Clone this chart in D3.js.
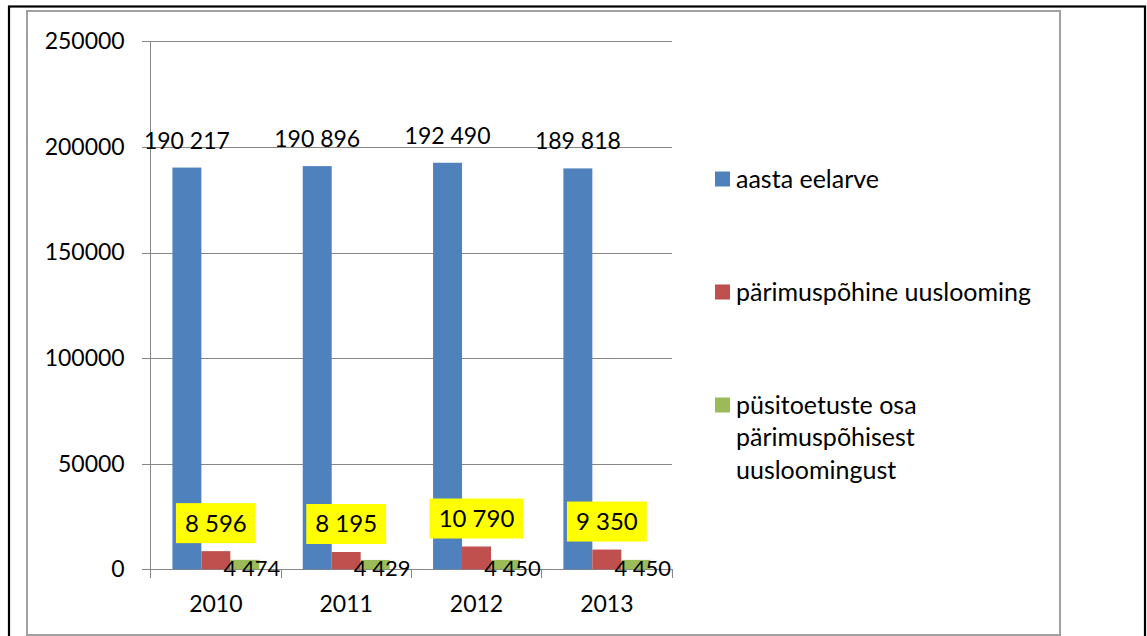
<!DOCTYPE html>
<html>
<head>
<meta charset="utf-8">
<script src="https://cdn.jsdelivr.net/npm/d3@7"></script>
<style>
  body { margin: 0; background: #fff; }
  text { font-family: Lato, "Noto Sans", sans-serif; fill: #000; }
</style>
</head>
<body>
<div id="chart"></div>
<script>
// DATA
var years = ["2010", "2011", "2012", "2013"];
var seriesNames = ["aasta eelarve", "pärimuspõhine uuslooming", "püsitoetuste osa pärimuspõhisest uusloomingust"];
var budget = [190217, 190896, 192490, 189818];
var heritage = [8596, 8195, 10790, 9350];
var grants = [4474, 4429, 4450, 4450];
var yTicks = [0, 50000, 100000, 150000, 200000, 250000];
var legendLines = [["aasta eelarve"], ["pärimuspõhine uuslooming"], ["püsitoetuste osa", "pärimuspõhisest", "uusloomingust"]];

var colors = ["#4f81bd", "#c0504d", "#9bbb59"];
var values = [budget, heritage, grants];

var W = 1147, H = 636;
var svg = d3.select("#chart").append("svg")
  .attr("width", W).attr("height", H);

//FRAMES
svg.append("rect")
  .attr("x", 9).attr("y", 6.5).attr("width", 1136).attr("height", 640)
  .attr("fill", "none").attr("stroke", "#000").attr("stroke-width", 2.2);
svg.append("rect")
  .attr("x", 27).attr("y", 11).attr("width", 1033).attr("height", 624)
  .attr("fill", "none").attr("stroke", "#a0a0a0").attr("stroke-width", 2);

//SCALES
var plot = {left: 150.7, right: 672, top: 41.3, bottom: 569.3};

var x = d3.scaleBand()
  .domain(years)
  .range([plot.left, plot.right]);

var xs = d3.scaleBand()
  .domain([0, 1, 2])
  .range([0, x.bandwidth()])
  .paddingInner(0)
  .paddingOuter(0.75);

var y = d3.scaleLinear()
  .domain([0, 250000])
  .range([plot.bottom, plot.top]);

var fmt = d3.formatLocale({decimal: ",", thousands: " ", grouping: [3]}).format(",d");

//GRIDLINES + Y AXIS
var yAxis = d3.axisLeft(y)
  .tickValues(yTicks)
  .tickSize(-(plot.right - plot.left))
  .tickSizeOuter(0)
  .tickPadding(26)
  .tickFormat(d3.format("d"));

var gy = svg.append("g")
  .attr("transform", `translate(${plot.left},0)`)
  .attr("shape-rendering", "crispEdges")
  .call(yAxis);
gy.select(".domain").remove();
gy.selectAll(".tick line").attr("stroke", "#868686").attr("x1", -9);
gy.selectAll(".tick text").style("font-size", "23px").attr("fill", "#000");

svg.append("line")
  .attr("x1", plot.left).attr("x2", plot.left)
  .attr("y1", plot.top).attr("y2", plot.bottom)
  .attr("stroke", "#868686").attr("shape-rendering", "crispEdges");

//X AXIS
var xAxis = d3.axisBottom(x).tickSize(0).tickPadding(26);
var gx = svg.append("g")
  .attr("transform", `translate(0,${plot.bottom})`)
  .attr("shape-rendering", "crispEdges")
  .call(xAxis);
gx.select(".domain").attr("stroke", "#868686");
gx.selectAll(".tick text").style("font-size", "23px").attr("fill", "#000");

svg.append("g").selectAll("line")
  .data(years.concat(["end"]))
  .enter().append("line")
  .attr("x1", function(d, i) { return plot.left + i * x.step(); })
  .attr("x2", function(d, i) { return plot.left + i * x.step(); })
  .attr("y1", plot.bottom).attr("y2", plot.bottom + 9)
  .attr("stroke", "#868686").attr("shape-rendering", "crispEdges");

//BARS
var series = svg.append("g").selectAll("g")
  .data(values)
  .enter().append("g")
  .attr("fill", function(d, i) { return colors[i]; });

series.each(function(vals, si) {
  d3.select(this).selectAll("rect")
    .data(vals)
    .enter().append("rect")
    .attr("x", function(d, i) { return x(years[i]) + xs(si); })
    .attr("width", xs.bandwidth())
    .attr("y", function(d) { return y(d); })
    .attr("height", function(d) { return plot.bottom - y(d); });
});

function cx(i, si) { return x(years[i]) + xs(si) + xs.bandwidth() / 2; }

//LABELS: BUDGET
svg.append("g").selectAll("text")
  .data(budget)
  .enter().append("text")
  .attr("x", function(d, i) { return cx(i, 0); })
  .attr("y", function(d) { return y(d) - 27; })
  .attr("dy", "0.35em")
  .attr("text-anchor", "middle")
  .style("font-size", "23px")
  .text(function(d) { return fmt(d); });

//LABELS: HERITAGE (yellow boxes)
var hl = svg.append("g").selectAll("g")
  .data(heritage)
  .enter().append("g");

hl.append("rect").attr("fill", "#ffff00");
hl.append("text")
  .attr("x", function(d, i) { return cx(i, 1); })
  .attr("y", function(d) { return y(d) - 28; })
  .attr("dy", "0.35em")
  .attr("text-anchor", "middle")
  .style("font-size", "24px")
  .text(function(d) { return fmt(d); });
hl.each(function(d, i) {
  var tw = d3.select(this).select("text").node().getComputedTextLength();
  d3.select(this).select("rect")
    .attr("x", cx(i, 1) - tw / 2 - 9)
    .attr("width", tw + 18)
    .attr("y", y(d) - 48)
    .attr("height", 40);
});

//LABELS: GRANTS
svg.append("g").selectAll("text")
  .data(grants)
  .enter().append("text")
  .attr("x", function(d, i) { return cx(i, 2) + 7; })
  .attr("y", plot.bottom - 1)
  .attr("dy", "0.35em")
  .attr("text-anchor", "middle")
  .style("font-size", "22px")
  .text(function(d) { return fmt(d); });

//LEGEND
var legendY = [179, 292, 405];
var lg = svg.append("g").selectAll("g")
  .data(seriesNames)
  .enter().append("g")
  .attr("transform", function(d, i) { return `translate(715,${legendY[i]})`; });

lg.append("rect")
  .attr("y", -7.5).attr("width", 15).attr("height", 15)
  .attr("fill", function(d, i) { return colors[i]; });

lg.append("text")
  .attr("x", 21)
  .style("font-size", "25px")
  .selectAll("tspan")
  .data(function(d, i) { return legendLines[i]; })
  .enter().append("tspan")
  .attr("x", 21)
  .attr("y", function(d, j) { return j * 32.5; })
  .attr("dy", "0.35em")
  .text(function(d) { return d; });
</script>
</body>
</html>
